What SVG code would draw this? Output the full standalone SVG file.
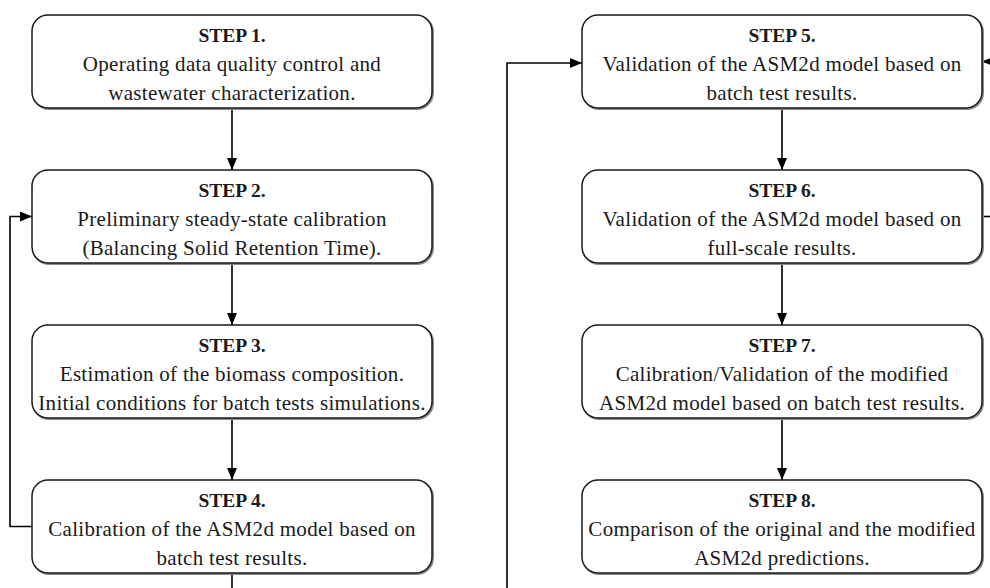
<svg xmlns="http://www.w3.org/2000/svg" width="990" height="588" viewBox="0 0 990 588">
<defs>
<style>
.box{fill:#fff;stroke:#1a1a1a;stroke-width:1.5}
.sh{fill:none;stroke:#8a8a8a;stroke-width:2}
.t{font-family:"Liberation Serif","Times New Roman",serif;font-size:21px;letter-spacing:0.3px;fill:#1a1a1a;text-anchor:middle}
.h{font-weight:bold;font-size:19.5px;letter-spacing:0}
.c{fill:none;stroke:#000;stroke-width:1.6}
</style>
<marker id="ah" viewBox="0 0 12 10" refX="12" refY="5" markerWidth="12" markerHeight="10" markerUnits="userSpaceOnUse" orient="auto">
<path d="M0,0 L12,5 L0,10 Z" fill="#000"/>
</marker>
</defs>
<g id="connectors">
<line class="c" x1="232" y1="108" x2="232" y2="170" marker-end="url(#ah)"/>
<line class="c" x1="232" y1="263" x2="232" y2="325" marker-end="url(#ah)"/>
<line class="c" x1="232" y1="418" x2="232" y2="480" marker-end="url(#ah)"/>
<polyline class="c" points="32,526.5 10,526.5 10,216.5 32,216.5" marker-end="url(#ah)"/>
<line class="c" x1="232" y1="573" x2="232" y2="588"/>
<polyline class="c" points="507,588 507,63 582,63" marker-end="url(#ah)"/>
<line class="c" x1="782" y1="108" x2="782" y2="170" marker-end="url(#ah)"/>
<line class="c" x1="782" y1="263" x2="782" y2="325" marker-end="url(#ah)"/>
<line class="c" x1="782" y1="418" x2="782" y2="480" marker-end="url(#ah)"/>
<line class="c" x1="982" y1="216.5" x2="990" y2="216.5"/>
<line class="c" x1="996" y1="61.5" x2="982" y2="61.5" marker-end="url(#ah)"/>
</g>
<g id="step1">
<rect class="sh" x="33" y="16" width="400" height="93" rx="16"/>
<rect class="box" x="32" y="15" width="400" height="93" rx="16"/>
<text class="t h" x="232" y="42">STEP 1.</text>
<text class="t" x="232" y="71">Operating data quality control and</text>
<text class="t" x="232" y="100">wastewater characterization.</text>
</g>
<g id="step2">
<rect class="sh" x="33" y="171" width="400" height="93" rx="16"/>
<rect class="box" x="32" y="170" width="400" height="93" rx="16"/>
<text class="t h" x="232" y="197">STEP 2.</text>
<text class="t" x="232" y="226">Preliminary steady-state calibration</text>
<text class="t" x="232" y="255">(Balancing Solid Retention Time).</text>
</g>
<g id="step3">
<rect class="sh" x="33" y="326" width="400" height="93" rx="16"/>
<rect class="box" x="32" y="325" width="400" height="93" rx="16"/>
<text class="t h" x="232" y="352">STEP 3.</text>
<text class="t" x="232" y="381">Estimation of the biomass composition.</text>
<text class="t" x="232" y="410">Initial conditions for batch tests simulations.</text>
</g>
<g id="step4">
<rect class="sh" x="33" y="481" width="400" height="93" rx="16"/>
<rect class="box" x="32" y="480" width="400" height="93" rx="16"/>
<text class="t h" x="232" y="507">STEP 4.</text>
<text class="t" x="232" y="536">Calibration of the ASM2d model based on</text>
<text class="t" x="232" y="565">batch test results.</text>
</g>
<g id="step5">
<rect class="sh" x="583" y="16" width="400" height="93" rx="16"/>
<rect class="box" x="582" y="15" width="400" height="93" rx="16"/>
<text class="t h" x="782" y="42">STEP 5.</text>
<text class="t" x="782" y="71">Validation of the ASM2d model based on</text>
<text class="t" x="782" y="100">batch test results.</text>
</g>
<g id="step6">
<rect class="sh" x="583" y="171" width="400" height="93" rx="16"/>
<rect class="box" x="582" y="170" width="400" height="93" rx="16"/>
<text class="t h" x="782" y="197">STEP 6.</text>
<text class="t" x="782" y="226">Validation of the ASM2d model based on</text>
<text class="t" x="782" y="255">full-scale results.</text>
</g>
<g id="step7">
<rect class="sh" x="583" y="326" width="400" height="93" rx="16"/>
<rect class="box" x="582" y="325" width="400" height="93" rx="16"/>
<text class="t h" x="782" y="352">STEP 7.</text>
<text class="t" x="782" y="381">Calibration/Validation of the modified</text>
<text class="t" x="782" y="410">ASM2d model based on batch test results.</text>
</g>
<g id="step8">
<rect class="sh" x="583" y="481" width="400" height="93" rx="16"/>
<rect class="box" x="582" y="480" width="400" height="93" rx="16"/>
<text class="t h" x="782" y="507">STEP 8.</text>
<text class="t" x="782" y="536">Comparison of the original and the modified</text>
<text class="t" x="782" y="565">ASM2d predictions.</text>
</g>
</svg>
